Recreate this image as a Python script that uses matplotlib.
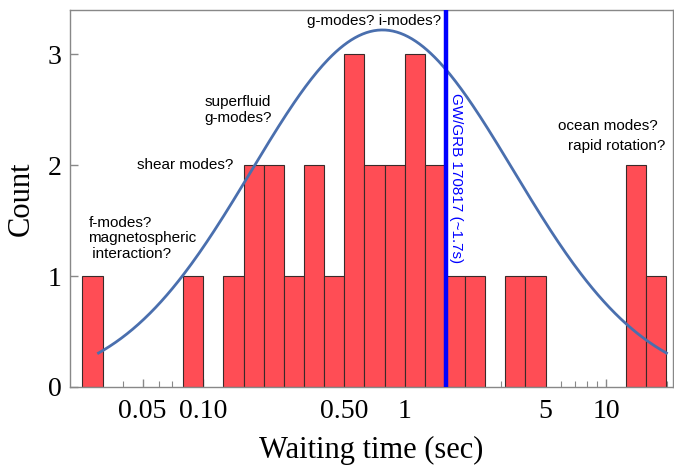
import matplotlib
matplotlib.use('Agg')
import matplotlib.pyplot as plt
import numpy as np

# histogram of waiting times, bins of 0.1 in log10(t)
log_first_edge = -1.6
log_bin_width = 0.1
counts = [1, 0, 0, 0, 0, 1, 0, 1, 2, 2, 1, 2, 1, 3, 2, 2, 3, 2, 1, 1,
          0, 1, 1, 0, 0, 0, 0, 2, 1]

# gaussian fit in log10(t)
fit_mu = -0.11
fit_sigma = 0.65
fit_amp = 3.22
fit_log_range = (-1.52, 1.30)

gw_time = 1.6
gw_label = 'GW/GRB 170817 (~1.7s)'

xtick_vals = [0.05, 0.1, 0.5, 1, 5, 10]
xtick_labels = ['0.05', '0.10', '0.50', '1', '5', '10']
xminor_vals = [0.03, 0.04, 0.06, 0.07, 0.08, 0.09, 0.2, 0.3, 0.4, 0.6, 0.7,
               0.8, 0.9, 2, 3, 4, 6, 7, 8, 9, 20]

serif = 'Liberation Serif'
sans = 'Liberation Sans'

fig = plt.figure(figsize=(6.74, 4.68), dpi=100)
ax = fig.add_axes([70/674, 1-387/468, 603/674, 377/468])

edges = 10**(log_first_edge + log_bin_width*np.arange(len(counts)+1))
for i, c in enumerate(counts):
    if c > 0:
        ax.bar(edges[i], c, width=edges[i+1]-edges[i], align='edge',
               color='#ff4d55', edgecolor='#3a2a2a', linewidth=0.8, zorder=2)

lx = np.linspace(fit_log_range[0], fit_log_range[1], 300)
ly = fit_amp*np.exp(-(lx-fit_mu)**2/(2*fit_sigma**2))
ax.plot(10**lx, ly, color='#4a6fae', linewidth=2.0, zorder=3)

ax.axvline(gw_time, color='#0000ff', linewidth=3.2, zorder=4)
ax.text(1.66, 2.65, gw_label, rotation=-90, color='#0000ff', fontsize=11,
        family=sans, ha='left', va='top', zorder=5)

ax.set_xscale('log')
ax.set_xlim(0.0218, 21.5)
ax.set_ylim(0, 3.40)

ax.set_xticks(xtick_vals)
ax.set_xticklabels(xtick_labels)
ax.set_xticks(xminor_vals, minor=True)
ax.xaxis.set_minor_formatter(matplotlib.ticker.NullFormatter())
ax.set_yticks([0, 1, 2, 3])

for lab in ax.get_xticklabels() + ax.get_yticklabels():
    lab.set_family(serif)
    lab.set_fontsize(20)

ax.tick_params(axis='both', which='major', direction='in', length=6,
               width=1, color='#888888')
ax.tick_params(axis='x', which='major', pad=9)
ax.tick_params(axis='y', which='major', pad=6)
ax.tick_params(axis='x', which='minor', direction='in', length=4,
               width=0.8, color='#888888')
for s in ax.spines.values():
    s.set_color('#888888')
    s.set_linewidth(1.0)

ax.set_xlabel('Waiting time (sec)', family=serif, fontsize=22, labelpad=8)
ax.set_ylabel('Count', family=serif, fontsize=22, labelpad=9)

# annotations
ax.text(1.52, 3.30, 'g-modes? i-modes?', fontsize=11, family=sans,
        ha='right', va='center')
ax.text(0.101, 2.50, 'superfluid\ng-modes?', fontsize=11, family=sans,
        ha='left', va='center', linespacing=1.15)
ax.text(0.047, 2.0, 'shear modes?', fontsize=11, family=sans,
        ha='left', va='center')
ax.text(0.0269, 1.34, 'f-modes?\nmagnetospheric\n interaction?', fontsize=11,
        family=sans, ha='left', va='center', linespacing=1.15)
ax.text(18.1, 2.35, 'ocean modes?', fontsize=11, family=sans,
        ha='right', va='center')
ax.text(19.7, 2.175, 'rapid rotation?', fontsize=11, family=sans,
        ha='right', va='center')

fig.savefig('out.png', dpi=100)
